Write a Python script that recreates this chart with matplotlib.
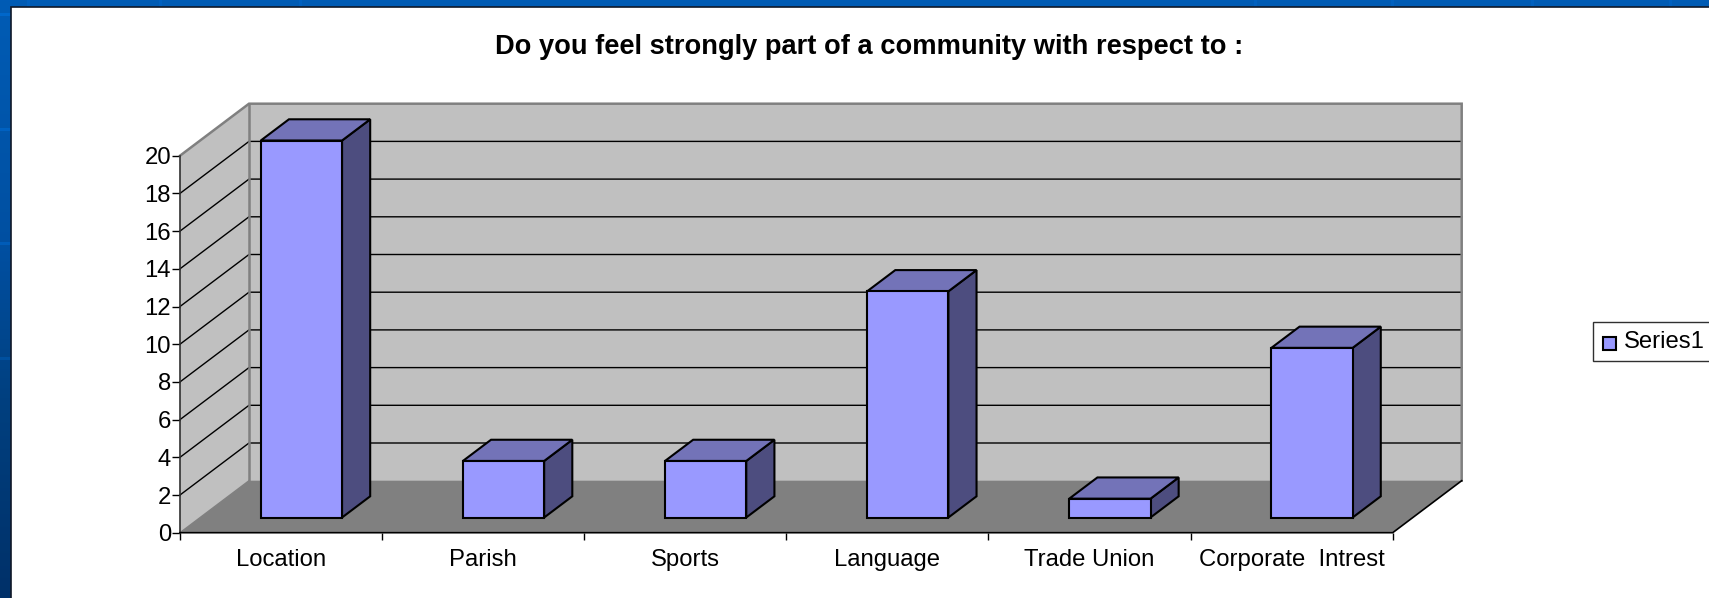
import numpy as np
import matplotlib
matplotlib.use("Agg")
import matplotlib.pyplot as plt
from matplotlib.patches import Polygon, Rectangle

plt.rcParams['font.family'] = ['Liberation Sans', 'DejaVu Sans']

categories = ["Location", "Parish", "Sports", "Language", "Trade Union", "Corporate  Intrest"]
values = [20, 3, 3, 12, 1, 9]
yticks = [0, 2, 4, 6, 8, 10, 12, 14, 16, 18, 20]
series_name = "Series1"

W, H = 1709, 598
fig = plt.figure(figsize=(W / 100, H / 100), dpi=100)

# blue slide background
bg = fig.add_axes([0, 0, 1, 1], zorder=0)
rows = np.arange(H)
grad = np.zeros((H, W, 3))
grad[:, :, 1] = np.interp(rows, [0, 250, 400, 598], [0.36, 0.31, 0.25, 0.19])[:, None]
grad[:, :, 2] = np.interp(rows, [0, 250, 400, 598], [0.71, 0.63, 0.50, 0.41])[:, None]
# lighter tile seams
for yy in [14, 129, 243, 358]:
    grad[yy - 1:yy + 2, :, 1] += 0.05
    grad[yy - 1:yy + 2, :, 2] += 0.09
for xx in [28, 160, 300, 1255, 1392, 1532, 1670]:
    grad[:7, xx - 1:xx + 2, 1] += 0.02
    grad[:7, xx - 1:xx + 2, 2] += 0.04
bg.imshow(np.clip(grad, 0, 1), aspect='auto', extent=[0, W, H, 0])
bg.add_patch(Rectangle((11, 7), W, H, facecolor='white', edgecolor='#101828', lw=1.2))
bg.set_xlim(0, W)
bg.set_ylim(H, 0)
bg.axis('off')

# main axes, front of the chart box
x0, x1 = 180, 1392.7
y0, y1 = 532.7, 155.7
ax = fig.add_axes([x0 / W, 1 - y0 / H, (x1 - x0) / W, (y0 - y1) / H], zorder=1)
ax.set_xlim(0, 6)
ax.set_ylim(0, 20)
ax.patch.set_alpha(0)
for s in ax.spines.values():
    s.set_visible(False)

DX = 69 / ((x1 - x0) / 6)
DY = 52 / ((y0 - y1) / 20)


def pj(x, y, d):
    return (x + d * DX, y + d * DY)


def poly(pts, **kw):
    ax.add_patch(Polygon(pts, closed=True, clip_on=False, **kw))


def seg(pts, **kw):
    ax.plot([p[0] for p in pts], [p[1] for p in pts], clip_on=False, solid_joinstyle='miter', **kw)


# back wall, side wall, floor
poly([pj(0, 0, 1), pj(6, 0, 1), pj(6, 20, 1), pj(0, 20, 1)], facecolor='#c0c0c0', edgecolor='none', zorder=1)
poly([pj(0, 0, 0), pj(0, 0, 1), pj(0, 20, 1), pj(0, 20, 0)], facecolor='#c0c0c0', edgecolor='none', zorder=1)
poly([pj(0, 0, 0), pj(6, 0, 0), pj(6, 0, 1), pj(0, 0, 1)], facecolor='#808080', edgecolor='none', zorder=2)

# gridlines
for v in yticks[1:-1]:
    seg([pj(0, v, 0), pj(0, v, 1), pj(6, v, 1)], color='black', lw=1.0, zorder=3)

# grey wall edges sit on top of the gridlines
seg([pj(0, 20, 0), pj(0, 20, 1), pj(6, 20, 1), pj(6, 0, 1)], color='#808080', lw=1.8, zorder=3.5)
seg([pj(0, 20, 1), pj(0, 0, 1)], color='#808080', lw=1.8, zorder=3.5)
seg([pj(0, 0, 0), pj(0, 0, 1)], color='#808080', lw=1.0, zorder=3.5)

# axis lines
seg([pj(0, 0, 0), pj(0, 20, 0)], color='#303030', lw=1.2, zorder=4)
seg([pj(0, 0, 0), pj(6, 0, 0), pj(6, 0, 1)], color='black', lw=1.2, zorder=4)

# bars
gap = 0.30
bw = 0.402
d_front, d_back = 0.292, 0.70
for i, v in enumerate(values):
    l, r = i + gap, i + gap + bw
    kw = dict(edgecolor='black', lw=1.5, joinstyle='miter', zorder=5)
    poly([pj(r, 0, d_front), pj(r, 0, d_back), pj(r, v, d_back), pj(r, v, d_front)], facecolor='#4d4d7f', **kw)
    poly([pj(l, v, d_front), pj(r, v, d_front), pj(r, v, d_back), pj(l, v, d_back)], facecolor='#7373b8', **kw)
    poly([pj(l, 0, d_front), pj(r, 0, d_front), pj(r, v, d_front), pj(l, v, d_front)], facecolor='#9999ff', **kw)

ax.set_yticks(yticks)
ax.set_yticklabels([str(v) for v in yticks])
ax.set_xticks(np.arange(7))
ax.set_xticklabels([])
ax.set_xticks(np.arange(6) + 0.5, labels=categories, minor=True)
ax.tick_params(axis='x', which='major', length=5, width=1, color='black')
ax.tick_params(axis='x', which='minor', length=0, labelsize=17.2, pad=12)
ax.tick_params(axis='y', length=6, width=1, labelsize=17.2, pad=0.5)

fig.text(869 / W, 1 - 47 / H, "Do you feel strongly part of a community with respect to :",
         ha='center', va='center', fontsize=19.6, fontweight='bold', color='black', zorder=6)

# legend drawn on the background axes
bg.add_patch(Rectangle((1593, 322), 130, 39, facecolor='white', edgecolor='#303030', lw=1.0, zorder=3))
bg.add_patch(Rectangle((1603, 337), 13, 13, facecolor='#9999ff', edgecolor='black', lw=1.5, zorder=4))
bg.text(1624, 342, series_name, fontsize=17.2, va='center', ha='left', color='black', zorder=4)

fig.savefig("out.png", dpi=100)
